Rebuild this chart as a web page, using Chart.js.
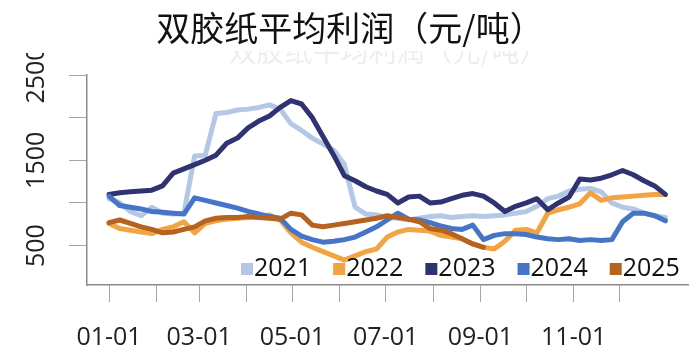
<!DOCTYPE html>
<html>
<head>
<meta charset="utf-8">
<script src="https://cdn.jsdelivr.net/npm/chart.js@4.4.1/dist/chart.umd.min.js"></script>
<style>
  html, body { margin: 0; padding: 0; background: #fff; }
</style>
</head>
<body>
<canvas id="myChart" width="700" height="362"></canvas>
<script>
const titleText = "双胶纸平均利润（元/吨）";
const seriesNames = ["2021", "2022", "2023", "2024", "2025"];
const seriesColors = ["#b4c7e7", "#f2a443", "#2f3371", "#4675c8", "#b5631f"];

// day of the year, one point a week
const days = [0, 7, 14, 21, 28, 35, 42, 49, 56, 63, 70, 77, 84, 91, 98, 105, 112, 119, 126, 133,
  140, 147, 154, 161, 168, 175, 182, 189, 196, 203, 210, 217, 224, 231, 238, 245, 252, 259, 266,
  273, 280, 287, 294, 301, 308, 315, 322, 329, 336, 343, 350, 357, 364];

const monthStarts = [0, 31, 59, 90, 120, 151, 181, 212, 243, 273, 304, 334];
const monthLabels = ["01-01", "", "03-01", "", "05-01", "", "07-01", "", "09-01", "", "11-01", ""];
const yTicks = [500, 1000, 1500, 2000, 2500];
const yLabels = ["500", "", "1500", "", "2500"];

const profit2021 = [1050, 1000, 900, 850, 950, 880, 870, 880, 1550, 1560, 2050, 2060, 2090, 2100,
  2120, 2150, 2100, 1930, 1850, 1760, 1690, 1620, 1450, 950, 870, 860, 830, 820, 800, 820, 840,
  850, 830, 840, 850, 840, 850, 860, 880, 900, 960, 1050, 1080, 1140, 1160, 1170, 1130, 1000,
  950, 930, 880, 850, 830];
const profit2022 = [760, 700, 680, 660, 640, 690, 720, 780, 650, 760, 790, 810, 820, 830, 840,
  860, 800, 650, 540, 480, 430, 380, 330, 380, 430, 460, 600, 660, 690, 680, 670, 620, 600, 580,
  520, 480, 460, 550, 680, 690, 650, 880, 920, 950, 990, 1120, 1030, 1060, 1070, 1080, 1090,
  1100, 1100];
const profit2023 = [1100, 1120, 1130, 1140, 1150, 1200, 1350, 1400, 1450, 1500, 1560, 1700, 1760,
  1880, 1960, 2020, 2120, 2200, 2160, 2000, 1780, 1560, 1320, 1260, 1190, 1140, 1100, 1000, 1070,
  1080, 1000, 1010, 1050, 1090, 1110, 1080, 1000, 900, 960, 1000, 1050, 920, 1000, 1070, 1280,
  1270, 1290, 1330, 1380, 1330, 1260, 1200, 1100];
const profit2024 = [1080, 970, 950, 930, 900, 890, 880, 870, 1060, 1030, 1000, 970, 940, 900, 870,
  840, 820, 690, 610, 570, 540, 550, 570, 600, 660, 720, 800, 880, 810, 800, 770, 730, 700, 690,
  740, 570, 620, 640, 640, 630, 600, 580, 570, 580, 560, 570, 560, 570, 780, 880, 880, 850, 790];
const profit2025 = [770, 800, 760, 720, 690, 650, 660, 690, 720, 790, 820, 830, 830, 840, 830, 820,
  810, 880, 860, 740, 720, 740, 760, 780, 800, 820, 850, 830, 810, 780, 700, 680, 640, 580, 520,
  480];

const allSeries = [profit2021, profit2022, profit2023, profit2024, profit2025];
const drawOrder = [5, 4, 3, 2, 1];

const datasets = allSeries.map((values, i) => ({
  label: seriesNames[i],
  data: values.map((v, k) => ({ x: days[k], y: v })),
  borderColor: seriesColors[i],
  backgroundColor: seriesColors[i],
  order: drawOrder[i],
}));

// title, rotated y labels and the legend sitting inside the plot
const overlay = {
  id: "overlay",
  afterDraw(chart) {
    const ctx = chart.ctx;
    const area = chart.chartArea;
    const yScale = chart.scales.y;

    // faint leftover of an older title, only its lower edge shows
    ctx.save();
    ctx.beginPath();
    ctx.rect(0, 51, chart.width, 20);
    ctx.clip();
    ctx.fillStyle = "rgba(0,0,0,0.07)";
    ctx.font = '28px "Noto Sans CJK SC"';
    ctx.textAlign = "center";
    ctx.textBaseline = "alphabetic";
    ctx.fillText(titleText, 388, 62);
    ctx.restore();

    // y labels, cut at the top like the source
    ctx.save();
    ctx.beginPath();
    ctx.rect(0, 53, area.left - 10, chart.height);
    ctx.clip();
    ctx.fillStyle = "#222";
    ctx.font = '25px "Open Sans"';
    ctx.textAlign = "center";
    ctx.textBaseline = "middle";
    yTicks.forEach((v, i) => {
      if (!yLabels[i]) return;
      ctx.save();
      ctx.translate(37, yScale.getPixelForValue(v));
      ctx.rotate(-Math.PI / 2);
      ctx.fillText(yLabels[i], 0, 0);
      ctx.restore();
    });
    ctx.restore();

    // title
    ctx.save();
    ctx.fillStyle = "#111";
    ctx.font = '34px "Noto Sans CJK SC"';
    ctx.textAlign = "center";
    ctx.textBaseline = "middle";
    ctx.fillText(titleText, chart.width / 2, 28);
    ctx.restore();

    // legend
    ctx.save();
    ctx.font = '25px "Open Sans"';
    ctx.textBaseline = "middle";
    ctx.textAlign = "left";
    let x = area.left + 154;
    const y = area.bottom - 16;
    chart.data.datasets.forEach((ds) => {
      ctx.fillStyle = ds.borderColor;
      ctx.fillRect(x, y - 6, 12, 12);
      ctx.fillStyle = "#111";
      ctx.fillText(ds.label, x + 13, y);
      x += 13 + ctx.measureText(ds.label).width + 22;
    });
    ctx.restore();
  },
};

const config = {
  type: "line",
  data: { datasets: datasets },
  options: {
    responsive: false,
    animation: false,
    layout: { padding: { top: 75, left: 69, right: 12, bottom: -12 } },
    plugins: {
      legend: { display: false },
      title: { display: false },
      tooltip: { enabled: false },
    },
    elements: {
      point: { radius: 0 },
      line: { borderWidth: 5, tension: 0, borderJoinStyle: "round", borderCapStyle: "round" },
    },
    scales: {
      x: {
        type: "linear",
        min: -14.4,
        max: 378.8,
        afterBuildTicks: (scale) => {
          scale.ticks = monthStarts.map((v) => ({ value: v }));
        },
        ticks: {
          autoSkip: false,
          maxRotation: 0,
          padding: 21,
          color: "#222",
          font: { family: "Open Sans", size: 25 },
          callback: (value, index) => monthLabels[index],
        },
        grid: { drawOnChartArea: false, tickLength: 17, color: "#a6a6a6" },
        border: { color: "#8c8c8c", width: 1.5 },
      },
      y: {
        min: 38,
        max: 2500,
        afterBuildTicks: (scale) => {
          scale.ticks = yTicks.map((v) => ({ value: v }));
        },
        ticks: { display: false },
        grid: { drawOnChartArea: false, tickLength: 18, color: "#a6a6a6" },
        border: { color: "#8c8c8c", width: 1.5 },
      },
    },
  },
  plugins: [overlay],
};

new Chart(document.getElementById("myChart"), config);
</script>
</body>
</html>
